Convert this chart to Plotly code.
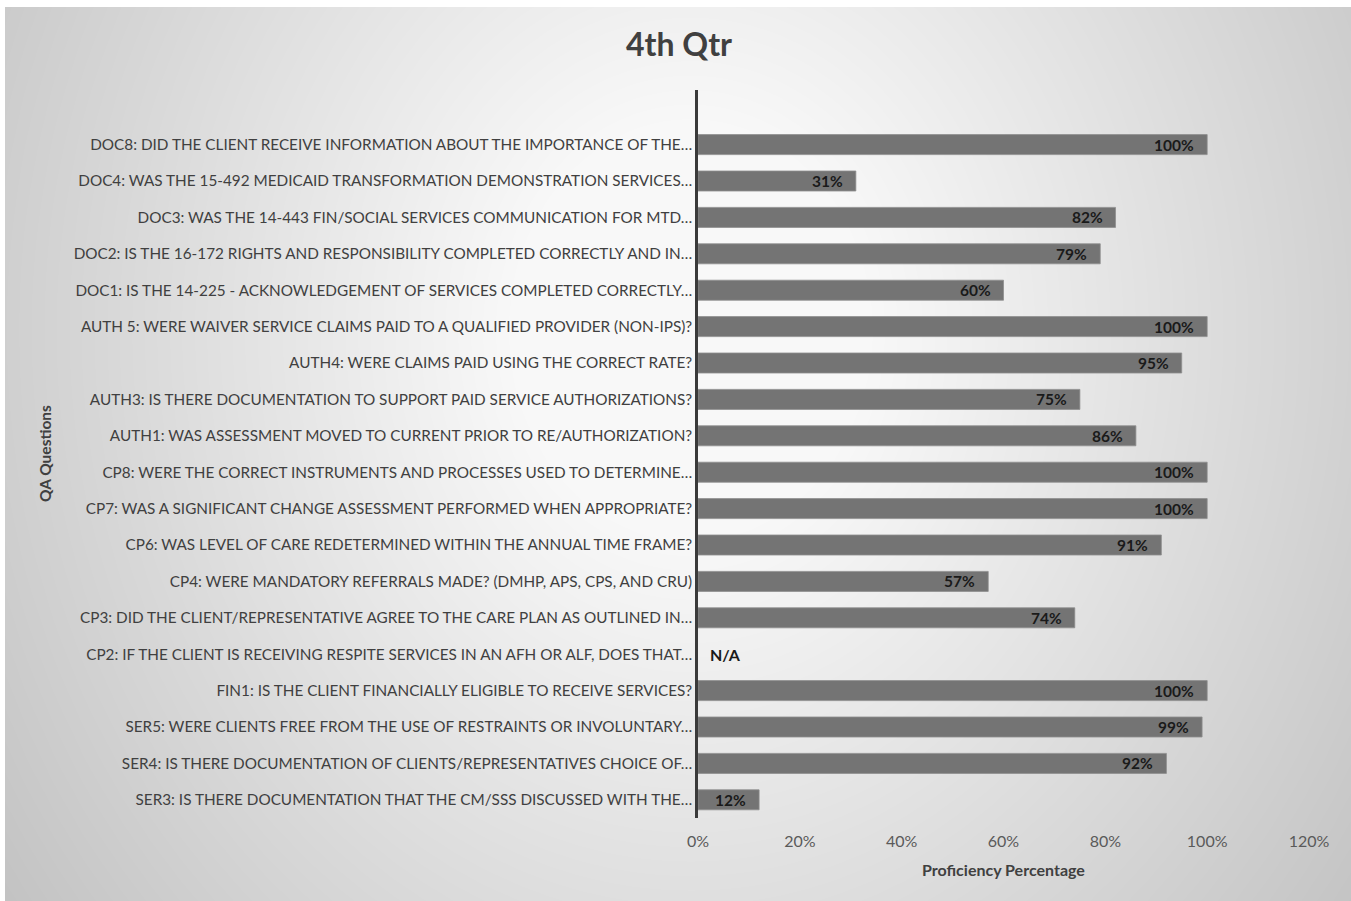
import numpy as np
import plotly.graph_objects as go

# ---- data (listed top to bottom as shown) ----
questions = [
    "DOC8: DID THE CLIENT RECEIVE INFORMATION ABOUT THE IMPORTANCE OF THE…",
    "DOC4: WAS THE 15-492 MEDICAID TRANSFORMATION DEMONSTRATION SERVICES…",
    "DOC3: WAS THE 14-443 FIN/SOCIAL SERVICES COMMUNICATION FOR MTD…",
    "DOC2: IS THE 16-172 RIGHTS AND RESPONSIBILITY COMPLETED CORRECTLY AND IN…",
    "DOC1: IS THE 14-225 - ACKNOWLEDGEMENT OF SERVICES COMPLETED CORRECTLY…",
    "AUTH 5: WERE WAIVER SERVICE CLAIMS PAID TO A QUALIFIED PROVIDER (NON-IPS)?",
    "AUTH4: WERE CLAIMS PAID USING THE CORRECT RATE?",
    "AUTH3: IS THERE DOCUMENTATION TO SUPPORT PAID SERVICE AUTHORIZATIONS?",
    "AUTH1: WAS ASSESSMENT MOVED TO CURRENT PRIOR TO RE/AUTHORIZATION?",
    "CP8: WERE THE CORRECT INSTRUMENTS AND PROCESSES USED TO DETERMINE…",
    "CP7: WAS A SIGNIFICANT CHANGE ASSESSMENT PERFORMED WHEN APPROPRIATE?",
    "CP6: WAS LEVEL OF CARE REDETERMINED WITHIN THE ANNUAL TIME FRAME?",
    "CP4: WERE MANDATORY REFERRALS MADE? (DMHP, APS, CPS, AND CRU)",
    "CP3: DID THE CLIENT/REPRESENTATIVE AGREE TO THE CARE PLAN AS OUTLINED IN…",
    "CP2: IF THE CLIENT IS RECEIVING RESPITE SERVICES IN AN AFH OR ALF, DOES THAT…",
    "FIN1: IS THE CLIENT FINANCIALLY ELIGIBLE TO RECEIVE SERVICES?",
    "SER5: WERE CLIENTS FREE FROM THE USE OF RESTRAINTS OR INVOLUNTARY…",
    "SER4: IS THERE DOCUMENTATION OF CLIENTS/REPRESENTATIVES CHOICE OF…",
    "SER3: IS THERE DOCUMENTATION THAT THE CM/SSS DISCUSSED WITH THE…",
]
proficiency = [100, 31, 82, 79, 60, 100, 95, 75, 86, 100, 100, 91, 57, 74, None, 100, 99, 92, 12]
x_ticks = [0, 20, 40, 60, 80, 100, 120]
x_tick_labels = ["0%", "20%", "40%", "60%", "80%", "100%", "120%"]

title_text = "4th Qtr"
y_title = "QA Questions"
x_title = "Proficiency Percentage"
missing_label = "N/A"

# bottom-to-top order for the category axis
cats = questions[::-1]
vals = proficiency[::-1]

W, H = 1351, 901
FONT = "Lato"

# plot-area placement in pixels
PX0, PX1 = 698, 1309
PY0, PY1 = 90, 818

fig = go.Figure()

# ---- soft radial background (subplot xy, hidden axes) ----
gx = np.linspace(0, 1, 140)
gy = np.linspace(0, 1, 100)
XX, YY = np.meshgrid(gx, gy)
px = 5 + XX * (W - 5)
py = H - YY * (H - 7)            # pixel y (top = 0)
dx = (px - 690) / 690
dy = (py - 330) / 800
d = np.sqrt(dx ** 2 + dy ** 2)
shade = np.clip(262 - 55 * d, 0, 248)
fig.add_trace(go.Heatmap(
    z=shade, x=gx, y=gy, zmin=0, zmax=255, zsmooth="best",
    colorscale=[[0, "rgb(0,0,0)"], [1, "rgb(255,255,255)"]],
    showscale=False, hoverinfo="skip", xaxis="x", yaxis="y",
))

# ---- bars ----
fig.add_trace(go.Bar(
    x=vals, y=cats, orientation="h", xaxis="x2", yaxis="y2",
    marker=dict(color="#747474", line=dict(color="#8e8e8e", width=0.8)),
    hoverinfo="skip",
))

# ---- gridlines with a vertical fade ----
shapes = []
N = 30
def mix(a, b, t):
    return int(round(a + (b - a) * t))
for g in x_ticks[1:]:
    for k in range(N):
        t = (k + 0.5) / N
        c = mix(0x84, 0xe2, t)
        shapes.append(dict(
            type="line", xref="x2", yref="y2 domain",
            x0=g, x1=g, y0=k / N, y1=(k + 1) / N,
            line=dict(color=f"rgb({c},{c},{c})", width=1.7), layer="below",
        ))

# ---- value labels ----
annotations = []
for c, v in zip(cats, vals):
    if v is None:
        annotations.append(dict(
            x=0, y=c, xref="x2", yref="y2", text=f"<b>{missing_label}</b>",
            xanchor="left", xshift=10, showarrow=False,
            font=dict(family=FONT, size=16, color="#1a1a1a"),
        ))
    else:
        annotations.append(dict(
            x=v, y=c, xref="x2", yref="y2", text=f"<b>{v}%</b>",
            xanchor="right", xshift=-11, showarrow=False,
            font=dict(family=FONT, size=15.5, color="#1a1a1a"),
        ))

# axis titles
annotations.append(dict(
    x=45 / W, y=1 - 454 / H, xref="paper", yref="paper", text=f"<b>{y_title}</b>",
    textangle=-90, showarrow=False, xanchor="center", yanchor="middle",
    font=dict(family=FONT, size=15.5, color="#404040"),
))
annotations.append(dict(
    x=1003.5 / W, y=1 - 869 / H, xref="paper", yref="paper", text=f"<b>{x_title}</b>",
    showarrow=False, xanchor="center", yanchor="middle",
    font=dict(family=FONT, size=16, color="#404040"),
))

fig.update_layout(
    width=W, height=H,
    margin=dict(l=0, r=0, t=0, b=0, autoexpand=False),
    paper_bgcolor="white",
    plot_bgcolor="rgba(0,0,0,0)",
    showlegend=False,
    bargap=0.45,
    title=dict(
        text=f"<b>{title_text}</b>", x=679 / W, y=1 - 45 / H,
        xanchor="center", yanchor="middle",
        font=dict(family=FONT, size=32, color="#404040"),
    ),
    xaxis=dict(domain=[5 / W, 1], range=[0, 1], visible=False, fixedrange=True),
    yaxis=dict(domain=[0, 1 - 7 / H], range=[0, 1], visible=False, fixedrange=True),
    xaxis2=dict(
        domain=[PX0 / W, PX1 / W], anchor="y2", range=[0, 120],
        tickvals=x_ticks, ticktext=x_tick_labels,
        showgrid=False, zeroline=False, showline=False, ticks="",
        ticklabelstandoff=12, automargin=False,
        tickfont=dict(family=FONT, size=16, color="#5a5a5a"),
    ),
    yaxis2=dict(
        domain=[1 - PY1 / H, 1 - PY0 / H], anchor="x2",
        type="category", categoryorder="array", categoryarray=cats,
        range=[-0.5, len(cats) + 0.5],
        showgrid=False, zeroline=False, ticks="", automargin=False,
        showline=True, linecolor="#3a3a3a", linewidth=2.5,
        tickfont=dict(family=FONT, size=15.3, color="#404040"),
    ),
    shapes=shapes,
    annotations=annotations,
)

fig.write_html("out.html")
